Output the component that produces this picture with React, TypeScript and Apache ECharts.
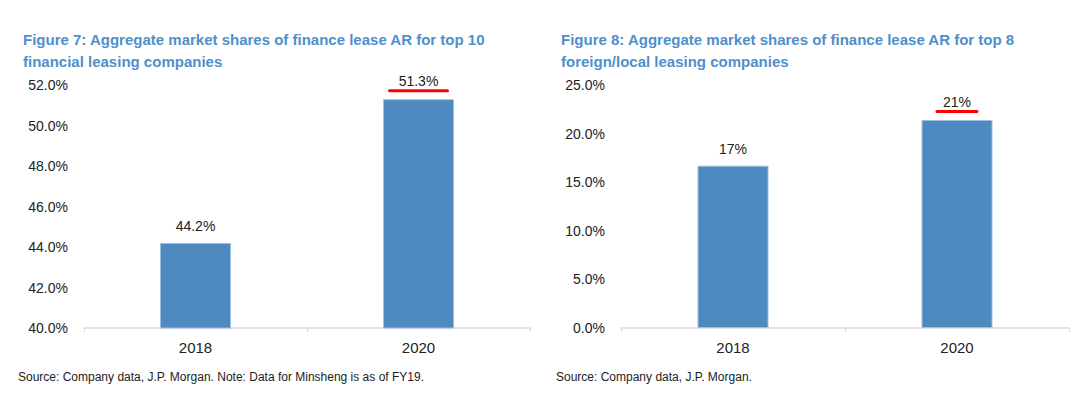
import React, { useEffect, useRef } from "react";
import * as echarts from "echarts";

const categories = ["2018", "2020"];
const leftValues = [44.2, 51.3];
const rightValues = [16.7, 21.4];
const leftTitle = "Figure 7: Aggregate market shares of finance lease AR for top 10\nfinancial leasing companies";
const rightTitle = "Figure 8: Aggregate market shares of finance lease AR for top 8\nforeign/local leasing companies";
const leftSource = "Source: Company data, J.P. Morgan. Note: Data for Minsheng is as of FY19.";
const rightSource = "Source: Company data, J.P. Morgan.";
const highlighted = [false, true];

const FONT = "'Liberation Sans Narrow', 'Arial Narrow', 'Liberation Sans', Arial, sans-serif";
const BLUE = "#4e8abf";
const TITLE = "#4f8fcb";
const AXIS = "#d9d9d9";

export default function App() {
  const ref = useRef<HTMLDivElement>(null);
  useEffect(() => {
    const chart = echarts.init(ref.current!, undefined, { renderer: "svg" });
    const makeData = (vals: number[], decimals: number, underlineW: number) =>
      vals.map((v, i) => ({
        value: v,
        label: {
          formatter: highlighted[i]
            ? `{v|${v.toFixed(decimals)}%}\n{u|}`
            : `{v|${v.toFixed(decimals)}%}`,
          distance: highlighted[i] ? 7 : 9,
          rich: {
            v: { fontSize: 14, fontFamily: FONT, color: "#222", align: "center", lineHeight: 16 },
            u: { width: underlineW, height: 3, backgroundColor: "#ff0000", borderRadius: 2, align: "center" },
          },
        },
      }));
    const xAxisCommon = {
      type: "category",
      data: categories,
      axisLine: { lineStyle: { color: AXIS, width: 1.5 } },
      axisTick: { show: true, length: 4, lineStyle: { color: AXIS } },
      axisLabel: { fontSize: 15, fontFamily: FONT, color: "#222", margin: 12 },
    };
    const yAxisCommon = {
      type: "value",
      axisLine: { show: false },
      axisTick: { show: false },
      splitLine: { show: false },
      axisLabel: {
        fontSize: 14,
        fontFamily: FONT,
        color: "#222",
        margin: 16,
        formatter: (v: number) => v.toFixed(1) + "%",
      },
    };
    const titleStyle = { fontSize: 15, fontWeight: "bold", color: TITLE, fontFamily: FONT, lineHeight: 22 };
    const barCommon = {
      type: "bar",
      barWidth: 71,
      itemStyle: { color: BLUE, borderColor: "#9dbfe0", borderWidth: 1 },
      label: { show: true, position: "top" },
    };
    chart.setOption({
      animation: false,
      title: [
        { text: leftTitle, left: 18, top: 23, textStyle: titleStyle },
        { text: rightTitle, left: 556, top: 23, textStyle: titleStyle },
      ],
      grid: [
        { left: 84, width: 446, top: 85, height: 243 },
        { left: 621, width: 448, top: 85, height: 243 },
      ],
      xAxis: [
        { ...xAxisCommon, gridIndex: 0 },
        { ...xAxisCommon, gridIndex: 1 },
      ],
      yAxis: [
        { ...yAxisCommon, gridIndex: 0, min: 40, max: 52, interval: 2 },
        { ...yAxisCommon, gridIndex: 1, min: 0, max: 25, interval: 5 },
      ],
      series: [
        { ...barCommon, xAxisIndex: 0, yAxisIndex: 0, data: makeData(leftValues, 1, 61) },
        { ...barCommon, xAxisIndex: 1, yAxisIndex: 1, data: makeData(rightValues, 0, 43) },
      ],
      graphic: [
        {
          type: "text",
          left: 18,
          top: 371,
          style: { text: leftSource, fontSize: 12, fontFamily: FONT, fill: "#222" },
        },
        {
          type: "text",
          left: 556,
          top: 371,
          style: { text: rightSource, fontSize: 12, fontFamily: FONT, fill: "#222" },
        },
      ],
    });
    return () => chart.dispose();
  }, []);
  return (
    <div
      ref={ref}
      style={{ position: "fixed", left: 0, top: 0, width: 1080, height: 397, background: "#fff" }}
    />
  );
}
